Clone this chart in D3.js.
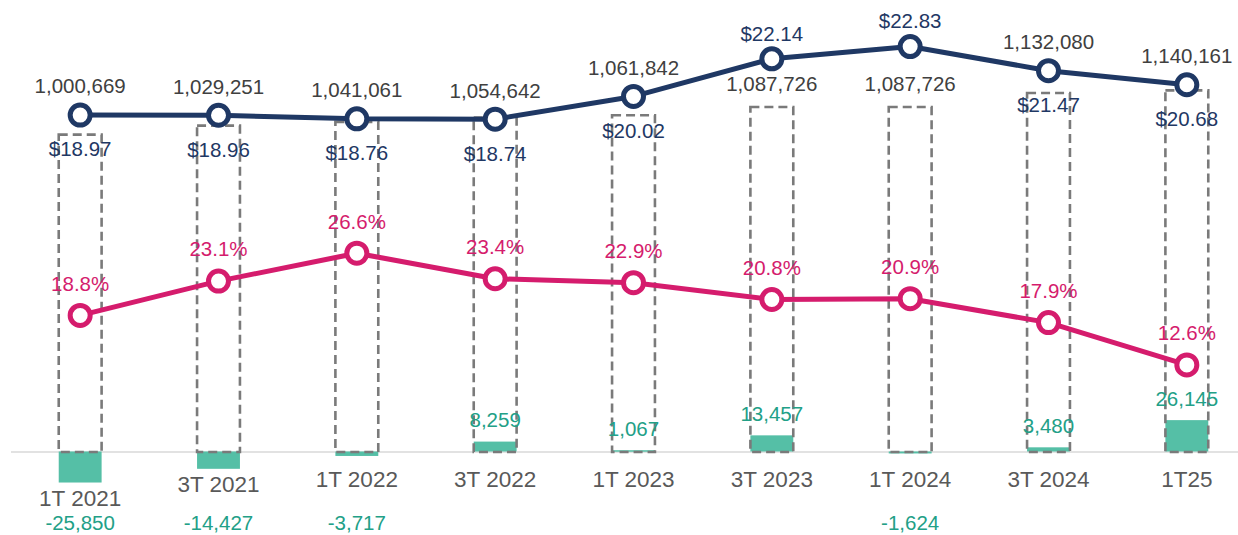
<!DOCTYPE html>
<html>
<head>
<meta charset="utf-8">
<script src="https://cdn.jsdelivr.net/npm/d3@7"></script>
<style>
  html, body { margin: 0; padding: 0; background: #fff; }
  text { font-family: "Liberation Sans", Arial, sans-serif; }
</style>
</head>
<body>
<div id="chart"></div>
<script>
// ---- Data ----
const quarters = ["1T 2021", "3T 2021", "1T 2022", "3T 2022", "1T 2023", "3T 2023", "1T 2024", "3T 2024", "1T25"];
const clients = [1000669, 1029251, 1041061, 1054642, 1061842, 1087726, 1087726, 1132080, 1140161];
const avgPrice = [18.97, 18.96, 18.76, 18.74, 20.02, 22.14, 22.83, 21.47, 20.68];
const marginPct = [0.188, 0.231, 0.266, 0.234, 0.229, 0.208, 0.209, 0.179, 0.126];
const netAdds = [-25850, -14427, -3717, 8259, 1067, 13457, -1624, 3480, 26145];

// where the price label sits (layout only)
const priceLabelAbove = [false, false, false, false, false, true, true, false, false];

const width = 1238, height = 535;
const baseY = 452;

const colors = {
    navy: "#1F3864",
    pink: "#D51C6D",
    green: "#55BFA6",
    greenText: "#22A087",
    dash: "#7A7A7A",
    axis: "#D9D9D9",
    numText: "#404040",
    catText: "#595959"
};

const svg = d3.select("#chart")
    .append("svg")
    .attr("width", width)
    .attr("height", height);

// ---- Scales ----
const x = d3.scaleBand()
    .domain(quarters)
    .range([11, 1256])
    .paddingInner(0.69)
    .paddingOuter(0.345);

const cx = d => x(d) + x.bandwidth() / 2;

const yClients = d3.scaleLinear().domain([0, 1400000]).range([baseY, 8]);
const yPrice = d3.scaleLinear().domain([0, 25]).range([baseY, 8]);
const yPct = d3.scaleLinear().domain([0, 0.56]).range([465.5, 18.5]);
const yNet = d3.scaleLinear().domain([0, 370000]).range([451.5, 7.5]);

const rows = quarters.map((q, i) => ({
    q, i,
    clients: clients[i],
    price: avgPrice[i],
    pct: marginPct[i],
    net: netAdds[i]
}));

// ---- Baseline ----
svg.append("line")
    .attr("x1", 11).attr("x2", width)
    .attr("y1", baseY).attr("y2", baseY)
    .attr("stroke", colors.axis)
    .attr("stroke-width", 1.5);

// ---- Net adds bars ----
svg.selectAll(".net-bar")
    .data(rows)
    .join("rect")
    .attr("class", "net-bar")
    .attr("x", d => x(d.q))
    .attr("width", x.bandwidth())
    .attr("y", d => Math.min(yNet(d.net), yNet(0)))
    .attr("height", d => Math.max(1.5, Math.abs(yNet(d.net) - yNet(0))))
    .attr("fill", colors.green);

// ---- Clients dashed bars ----
svg.selectAll(".client-bar")
    .data(rows)
    .join("rect")
    .attr("class", "client-bar")
    .attr("x", d => x(d.q))
    .attr("width", x.bandwidth())
    .attr("y", d => yClients(d.clients))
    .attr("height", d => baseY - yClients(d.clients))
    .attr("fill", "none")
    .attr("stroke", colors.dash)
    .attr("stroke-width", 2.6)
    .attr("stroke-dasharray", "9,5");

// ---- Lines ----
function drawLine(yScale, key, color) {
    const line = d3.line()
        .x(d => cx(d.q))
        .y(d => yScale(d[key]));

    svg.append("path")
        .datum(rows)
        .attr("d", line)
        .attr("fill", "none")
        .attr("stroke", color)
        .attr("stroke-width", 5)
        .attr("stroke-linejoin", "round");

    svg.selectAll(".pt-" + key)
        .data(rows)
        .join("circle")
        .attr("class", "pt-" + key)
        .attr("cx", d => cx(d.q))
        .attr("cy", d => yScale(d[key]))
        .attr("r", 10)
        .attr("fill", "#fff")
        .attr("stroke", color)
        .attr("stroke-width", 5);
}

drawLine(yPrice, "price", colors.navy);
drawLine(yPct, "pct", colors.pink);

// ---- Labels ----
// hyphen minus like the source, not the unicode minus
const fmtInt = v => d3.format(",")(v).replace("\u2212", "-");

function label(xPos, yCenter, txt, color, size) {
    svg.append("text")
        .attr("x", xPos)
        .attr("y", yCenter)
        .attr("dy", "0.36em")
        .attr("text-anchor", "middle")
        .attr("fill", color)
        .style("font-size", size + "px")
        .text(txt);
}

rows.forEach(d => {
    const px = cx(d.q);
    const py = yPrice(d.price);
    const above = priceLabelAbove[d.i];

    // clients count
    const clientY = above ? yClients(d.clients) - 23 : py - 29;
    label(px, clientY, fmtInt(d.clients), colors.numText, 20.5);

    // price
    const priceY = above ? py - 25.5 : py + 34;
    label(px, priceY, "$" + d.price.toFixed(2), colors.navy, 20.5);

    // margin percent
    label(px, yPct(d.pct) - 32, (d.pct * 100).toFixed(1) + "%", colors.pink, 20.5);

    // net adds
    const netY = d.net >= 0 ? yNet(d.net) - 22 : 523;
    label(px, netY, fmtInt(d.net), colors.greenText, 20.5);

    // category
    const barBottom = Math.max(yNet(0), yNet(d.net));
    label(px, Math.max(479.3, barBottom + 15.5), d.q, colors.catText, 22.5);
});
</script>
</body>
</html>
